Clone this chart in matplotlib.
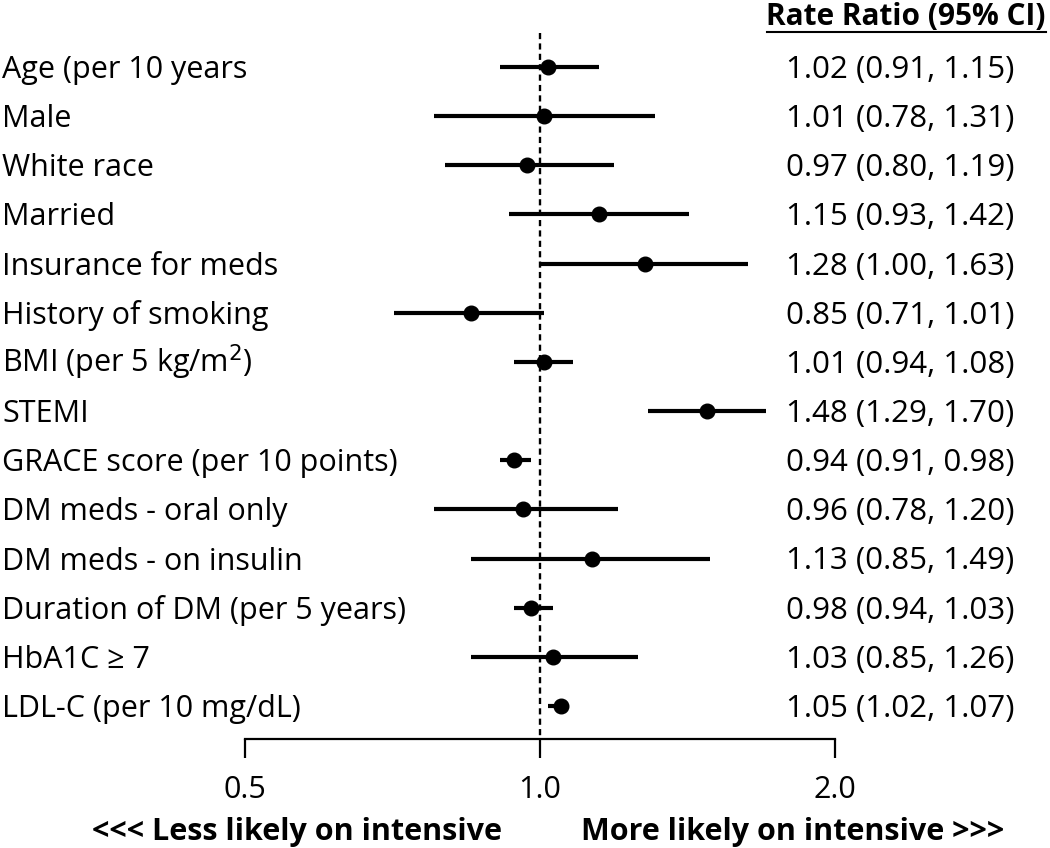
import numpy as np
import matplotlib
matplotlib.use("Agg")
import matplotlib.pyplot as plt
from matplotlib.lines import Line2D

plt.rcParams['font.family'] = ['Open Sans', 'DejaVu Sans']

labels = ["Age (per 10 years", "Male", "White race", "Married", "Insurance for meds",
          "History of smoking", "BMI (per 5 kg/m$^2$)", "STEMI", "GRACE score (per 10 points)",
          "DM meds - oral only", "DM meds - on insulin", "Duration of DM (per 5 years)",
          "HbA1C \u2265 7", "LDL-C (per 10 mg/dL)"]
rr = [1.02, 1.01, 0.97, 1.15, 1.28, 0.85, 1.01, 1.48, 0.94, 0.96, 1.13, 0.98, 1.03, 1.05]
lo = [0.91, 0.78, 0.80, 0.93, 1.00, 0.71, 0.94, 1.29, 0.91, 0.78, 0.85, 0.94, 0.85, 1.02]
hi = [1.15, 1.31, 1.19, 1.42, 1.63, 1.01, 1.08, 1.70, 0.98, 1.20, 1.49, 1.03, 1.26, 1.07]
xticks = [0.5, 1.0, 2.0]
xticklabels = ["0.5", "1.0", "2.0"]
header = "Rate Ratio (95% CI)"
left_note = "<<< Less likely on intensive"
right_note = "More likely on intensive >>>"

W, H = 1050, 848
fig = plt.figure(figsize=(W/100, H/100), dpi=100)
ax = fig.add_axes([0, 0, 1, 1])
ax.set_xscale('log', base=2)
ax.set_xlim(2**(-540/295), 2**(510/295))
row0, step = 67, 49.15
ax.set_ylim((H - row0)/step, -row0/step)
ax.patch.set_visible(False)

n = len(labels)
ys = np.arange(n)
fs = 22
for i in range(n):
    ax.plot([lo[i], hi[i]], [ys[i], ys[i]], color='black', lw=3.0, solid_capstyle='butt', zorder=3)
ax.plot(rr, ys, 'o', color='black', ms=10.5, zorder=4)

spine_y = (739 - row0)/step
ax.plot([1, 1], [(33 - row0)/step, spine_y], color='black', lw=1.7, ls=(0, (2.6, 1.8)), zorder=2)

for s in ['top', 'right', 'left']:
    ax.spines[s].set_visible(False)
ax.spines['bottom'].set_position(('data', spine_y))
ax.spines['bottom'].set_bounds(0.5, 2.0)
ax.spines['bottom'].set_linewidth(1.6)
ax.set_xticks(xticks)
ax.set_xticklabels(xticklabels)
ax.xaxis.set_minor_locator(matplotlib.ticker.NullLocator())
ax.tick_params(axis='x', direction='out', length=14, width=1.6, pad=12, labelsize=fs)
ax.set_yticks([])

off = 11/step
trans = matplotlib.transforms.blended_transform_factory(fig.transFigure, ax.transData)
for i in range(n):
    ax.text(2/W, ys[i] + off, labels[i], transform=trans, ha='left', va='baseline', fontsize=fs)
    ax.text(900/W, ys[i] + off, f"{rr[i]:.2f} ({lo[i]:.2f}, {hi[i]:.2f})", transform=trans,
            ha='center', va='baseline', fontsize=22.5)

ht = fig.text(1046/W, 1 - 25/H, header, ha='right', va='baseline', fontsize=21.5, fontweight='bold')
fig.text(297/W, 1 - 840/H, left_note, ha='center', va='baseline', fontsize=fs, fontweight='bold')
fig.text(793/W, 1 - 840/H, right_note, ha='center', va='baseline', fontsize=fs, fontweight='bold')

fig.canvas.draw()
bb = ht.get_window_extent().transformed(fig.transFigure.inverted())
uy = 1 - 32/H
fig.add_artist(Line2D([bb.x0, bb.x1], [uy, uy], transform=fig.transFigure,
                      color='black', lw=1.5))

fig.savefig("out.png", dpi=100)
